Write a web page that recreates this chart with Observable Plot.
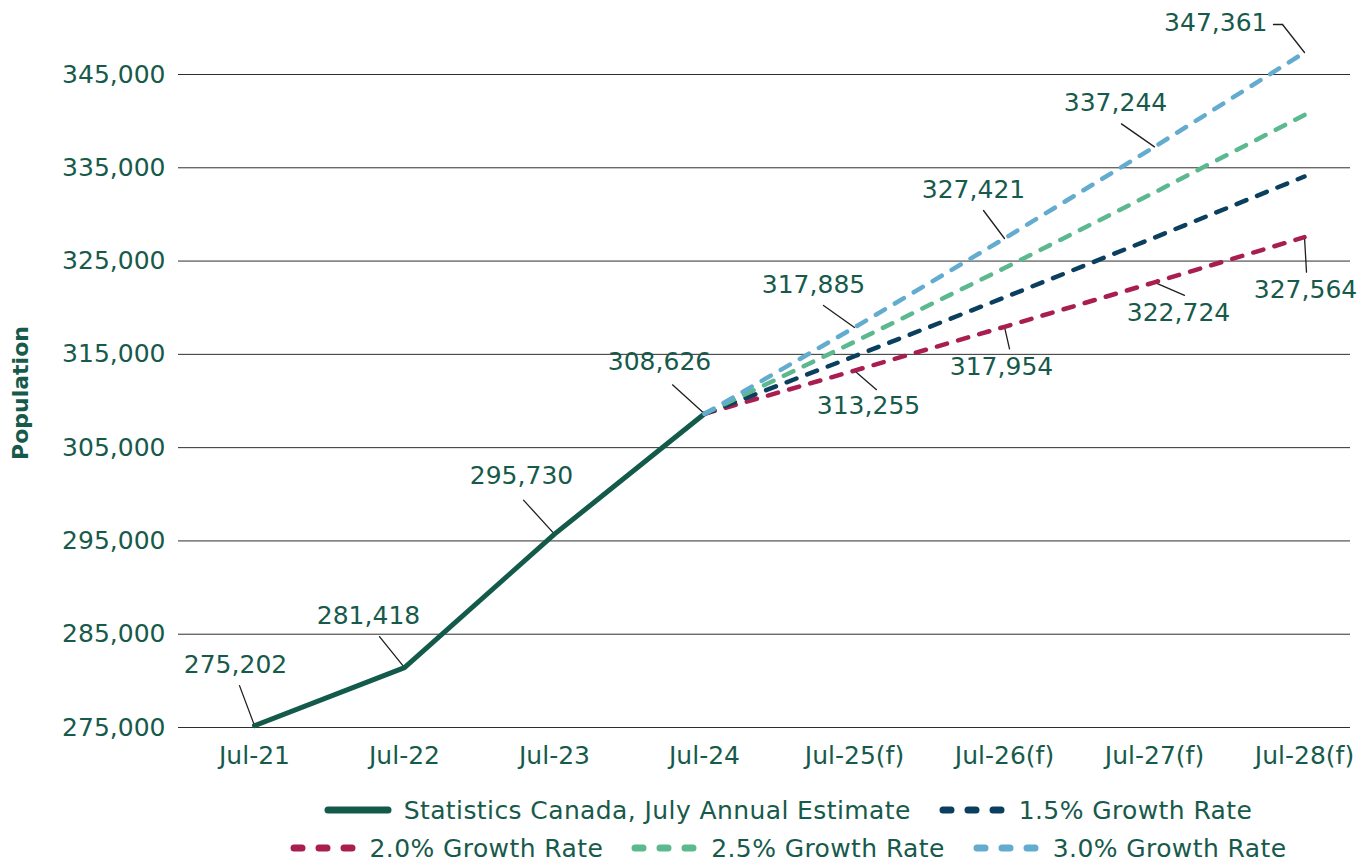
<!DOCTYPE html>
<html>
<head>
<meta charset="utf-8">
<script src="https://cdn.jsdelivr.net/npm/d3@7"></script>
<script src="https://cdn.jsdelivr.net/npm/@observablehq/plot@0.6"></script>
<style>
  body { margin: 0; background: #fff; }
  #chart { width: 1372px; }
  .legend { width: 1372px; box-sizing: border-box; padding-left: 204px; padding-top: 11px;
    font-family: "DejaVu Sans", sans-serif; font-size: 25px; letter-spacing: 0.4px; color: #175a4b; }
  .row { display: flex; justify-content: center; align-items: center; height: 38px; }
  .item { display: flex; align-items: center; margin: 0 14px; }
  .item svg { margin-right: 12px; }
</style>
</head>
<body>
<div id="chart"></div>
<div class="legend" id="legend"></div>
<script>
// ---- Data ----
const categories = ["Jul-21", "Jul-22", "Jul-23", "Jul-24", "Jul-25(f)", "Jul-26(f)", "Jul-27(f)", "Jul-28(f)"];
const estimateCategories = ["Jul-21", "Jul-22", "Jul-23", "Jul-24"];
const estimateValues = [275202, 281418, 295730, 308626];
const forecastCategories = ["Jul-24", "Jul-25(f)", "Jul-26(f)", "Jul-27(f)", "Jul-28(f)"];
const navySeries = [308626, 314799, 321095, 327517, 334067];
const redSeries = [308626, 313255, 317954, 322724, 327564];
const greenSeries = [308626, 316342, 324250, 332356, 340665];
const blueSeries = [308626, 317885, 327421, 337244, 347361];
const yTicks = [275000, 285000, 295000, 305000, 315000, 325000, 335000, 345000];
const legendLabels = ["Statistics Canada, July Annual Estimate", "1.5% Growth Rate", "2.0% Growth Rate", "2.5% Growth Rate", "3.0% Growth Rate"];
const yLabel = "Population";

// ---- Styling ----
const textColor = "#175a4b";
const colors = { estimate: "#135a4a", navy: "#0b3f5f", red: "#a81e50", green: "#5cb88f", blue: "#63acd0" };

const seriesMap = {
  estimate: { cats: estimateCategories, vals: estimateValues },
  navy: { cats: forecastCategories, vals: navySeries },
  red: { cats: forecastCategories, vals: redSeries },
  green: { cats: forecastCategories, vals: greenSeries },
  blue: { cats: forecastCategories, vals: blueSeries }
};
const rows = s => seriesMap[s].cats.map((c, i) => ({ cat: c, value: seriesMap[s].vals[i] }));

// annotation layout: which point, leader end offset (lx, ly) and text offset (tx, ty) in pixels
const annotations = [
  { s: "estimate", i: 0, lx: -15, ly: -40, tx: -19, ty: -61 },
  { s: "estimate", i: 1, lx: -25, ly: -31, tx: -36, ty: -52 },
  { s: "estimate", i: 2, lx: -31, ly: -34, tx: -33, ty: -58 },
  { s: "estimate", i: 3, lx: -32, ly: -29, tx: -45, ty: -52 },
  { s: "blue", i: 1, lx: -31, ly: -22, tx: -41, ty: -42 },
  { s: "red", i: 1, lx: 22, ly: 19, tx: 14, ty: 35 },
  { s: "blue", i: 2, lx: -21, ly: -28, tx: -31, ty: -48 },
  { s: "red", i: 2, lx: 5, ly: 22, tx: -3, ty: 40 },
  { s: "blue", i: 3, lx: -33, ly: -23, tx: -39, ty: -44 },
  { s: "red", i: 3, lx: 30, ly: 13, tx: 24, ty: 31 },
  { s: "blue", i: 4, lx: -22, ly: -28, tx: -37, ty: -29, anchor: "end", elbow: 9 },
  { s: "red", i: 4, lx: 2, ly: 35, tx: 1, ty: 53 }
].map(a => ({ ...a, cat: seriesMap[a.s].cats[a.i], value: seriesMap[a.s].vals[a.i] }));

const leaderShape = { draw(ctx, l) { ctx.moveTo(0, 0); ctx.lineTo(0, -l); } };
const fmt = d3.format(",");

const annotationMarks = annotations.flatMap(a => {
  const L = Math.hypot(a.lx, a.ly);
  const rot = Math.atan2(a.lx, -a.ly) * 180 / Math.PI;
  const m = [
    Plot.vector([a], { x: "cat", y: "value", length: L, rotate: rot, anchor: "start", shape: leaderShape, stroke: "#1f1f1f", strokeWidth: 1.3 }),
    Plot.text([a], { x: "cat", y: "value", text: d => fmt(d.value), dx: a.tx, dy: a.ty, textAnchor: a.anchor || "middle", fill: textColor })
  ];
  if (a.elbow) {
    m.push(Plot.vector([a], { x: "cat", y: "value", dx: a.lx, dy: a.ly, length: a.elbow, rotate: -90, anchor: "start", shape: leaderShape, stroke: "#1f1f1f", strokeWidth: 1.3 }));
  }
  return m;
});

const dashed = (s) => Plot.line(rows(s), { x: "cat", y: "value", stroke: colors[s], strokeWidth: 4.5, strokeDasharray: "10.5,11.5", strokeLinecap: "round" });

const chart = Plot.plot({
  width: 1372,
  height: 780,
  marginLeft: 178,
  marginRight: 22,
  marginTop: 74,
  marginBottom: 53,
  style: { fontFamily: "DejaVu Sans, sans-serif", fontSize: "25px", color: textColor, background: "#fff", overflow: "visible" },
  x: { type: "point", domain: categories, range: [252, 1305], padding: 0 },
  y: { domain: [275000, 345000] },
  marks: [
    Plot.ruleY(yTicks, { stroke: "#2e2e2e", strokeWidth: 1 }),
    Plot.axisY({ ticks: yTicks, tickFormat: fmt, tickSize: 0, tickPadding: 13, label: null }),
    Plot.axisX({ tickSize: 0, tickPadding: 19, label: null }),
    Plot.text([yLabel], { text: d => d, frameAnchor: "left", textAnchor: "middle", dx: -158, dy: -8, rotate: -90, fontWeight: "bold", fontSize: 22, fill: textColor }),
    ...annotationMarks,
    Plot.line(rows("estimate"), { x: "cat", y: "value", stroke: colors.estimate, strokeWidth: 5 }),
    dashed("red"),
    dashed("navy"),
    dashed("green"),
    dashed("blue")
  ]
});
document.getElementById("chart").appendChild(chart);

// ---- Legend ----
function swatch(color, solid) {
  const ns = "http://www.w3.org/2000/svg";
  const svg = document.createElementNS(ns, "svg");
  svg.setAttribute("width", 68); svg.setAttribute("height", 12);
  const line = document.createElementNS(ns, "line");
  line.setAttribute("x1", 4); line.setAttribute("x2", 64); line.setAttribute("y1", 6); line.setAttribute("y2", 6);
  line.setAttribute("stroke", color); line.setAttribute("stroke-width", 7); line.setAttribute("stroke-linecap", "round");
  if (!solid) line.setAttribute("stroke-dasharray", "8,17");
  svg.appendChild(line);
  return svg;
}
const legendRows = [
  [[legendLabels[0], colors.estimate, true], [legendLabels[1], colors.navy, false]],
  [[legendLabels[2], colors.red, false], [legendLabels[3], colors.green, false], [legendLabels[4], colors.blue, false]]
];
const legend = document.getElementById("legend");
for (const r of legendRows) {
  const row = document.createElement("div"); row.className = "row";
  for (const [label, color, solid] of r) {
    const item = document.createElement("div"); item.className = "item";
    item.appendChild(swatch(color, solid));
    const span = document.createElement("span"); span.textContent = label;
    item.appendChild(span);
    row.appendChild(item);
  }
  legend.appendChild(row);
}
</script>
</body>
</html>
